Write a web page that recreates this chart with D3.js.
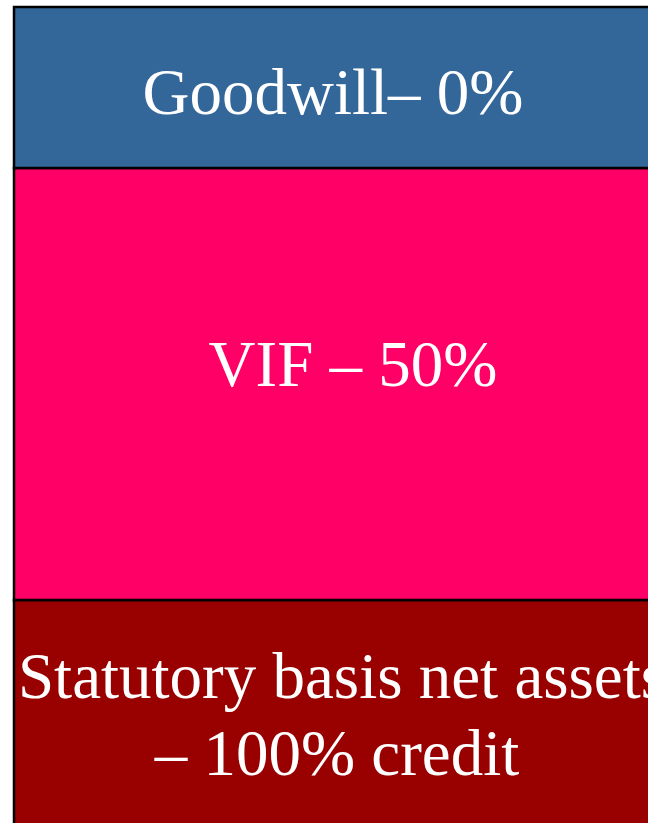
<!DOCTYPE html>
<html>
<head>
<meta charset="utf-8">
<script src="https://cdn.jsdelivr.net/npm/d3@7"></script>
<style>
  html, body { margin: 0; padding: 0; background: #ffffff; overflow: hidden; }
  svg { display: block; }
</style>
</head>
<body>
<div id="chart"></div>
<script>
// segments listed bottom to top
const segments = ["statutory", "vif", "goodwill"];
const segmentValues = [267, 432, 161];
const segmentLabels = [
    ["Statutory basis net assets", "\u2013 100% credit"],
    ["VIF \u2013 50%"],
    ["Goodwill\u2013 0%"]
];
const segmentColors = ["#990000", "#ff0066", "#336699"];

const width = 648;
const height = 823;
const boxLeft = 14;
const boxRight = 666;
const boxTop = 7;

// label baselines measured from each segment's top edge
const labelOffsets = [[98, 175], [218], [107]];
const labelShift = [[2, -3], [13], [-7]];

const svg = d3.select("#chart")
    .append("svg")
    .attr("width", width)
    .attr("height", height);

const total = d3.sum(segmentValues);
const y = d3.scaleLinear()
    .domain([0, total])
    .range([boxTop + total, boxTop]);

const stacked = segmentValues.map((v, i) => {
    const base = d3.sum(segmentValues.slice(0, i));
    return { key: segments[i], y0: base, y1: base + v, i: i };
});

svg.selectAll("rect.seg")
    .data(stacked)
    .join("rect")
    .attr("class", "seg")
    .attr("x", boxLeft)
    .attr("width", boxRight - boxLeft)
    .attr("y", d => y(d.y1))
    .attr("height", d => y(d.y0) - y(d.y1))
    .attr("fill", d => segmentColors[d.i])
    .attr("stroke", "#000000")
    .attr("stroke-width", 2.5);

const cx = (boxLeft + boxRight) / 2;

svg.selectAll("g.lbl")
    .data(stacked)
    .join("g")
    .attr("class", "lbl")
    .each(function (d) {
        const g = d3.select(this);
        segmentLabels[d.i].forEach((line, j) => {
            g.append("text")
                .attr("x", cx + labelShift[d.i][j])
                .attr("y", y(d.y1) + labelOffsets[d.i][j])
                .attr("text-anchor", "middle")
                .attr("fill", "#ffffff")
                .attr("font-family", "'Liberation Serif', 'Times New Roman', serif")
                .attr("font-size", 65)
                .text(line);
        });
    });
</script>
</body>
</html>
